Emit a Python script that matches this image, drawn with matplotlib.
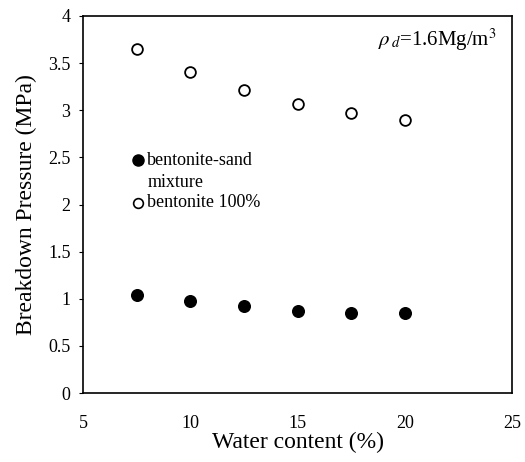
import matplotlib
matplotlib.use("Agg")
import matplotlib.pyplot as plt
from matplotlib.lines import Line2D

water = [7.5, 10, 12.5, 15, 17.5, 20]
p_mixture = [1.04, 0.98, 0.92, 0.87, 0.85, 0.85]
p_bentonite = [3.65, 3.41, 3.21, 3.07, 2.97, 2.90]

plt.rcParams["font.family"] = "Liberation Serif"
plt.rcParams["mathtext.fontset"] = "stix"

fig = plt.figure(figsize=(5.25, 4.62), dpi=100)
ax = fig.add_axes([83 / 525, 1 - 393 / 462, (512 - 83) / 525, (393 - 16) / 462])

ax.scatter(water, p_mixture, s=70, color="black", zorder=3)
ax.scatter(water, p_bentonite, s=60, facecolors="white", edgecolors="black",
           linewidths=1.3, zorder=3)

ax.set_xlim(5, 25)
ax.set_ylim(0, 4)
ax.set_xticks([5, 10, 15, 20, 25])
ax.set_yticks([0, 0.5, 1, 1.5, 2, 2.5, 3, 3.5, 4])
ax.set_yticklabels(["0", "0.5", "1", "1.5", "2", "2.5", "3", "3.5", "4"])
ax.tick_params(axis="both", labelsize=13, length=3, direction="out", pad=6)
ax.tick_params(axis="x", length=0, pad=16)
for sp in ax.spines.values():
    sp.set_linewidth(1.2)

ax.set_xlabel("Water content (%)", fontsize=17, labelpad=0)
ax.set_ylabel("Breakdown Pressure (MPa)", fontsize=17, labelpad=8)

# legend drawn by hand like the original
ax.add_line(Line2D([7.55], [2.47], marker="o", markersize=8, color="black",
                   linestyle="none"))
ax.text(8.0, 2.47, "bentonite-sand", fontsize=13, va="center")
ax.text(8.0, 2.23, "mixture", fontsize=13, va="center")
ax.add_line(Line2D([7.55], [2.02], marker="o", markersize=7, markerfacecolor="white",
                   markeredgecolor="black", markeredgewidth=1.2, linestyle="none"))
ax.text(8.0, 2.02, "bentonite 100%", fontsize=13, va="center")

ax.text(24.3, 3.75, r"$\rho_{\,d}$=1.6Mg/m$^3$", fontsize=15, ha="right",
        va="center")

fig.savefig("out.png", dpi=100)
